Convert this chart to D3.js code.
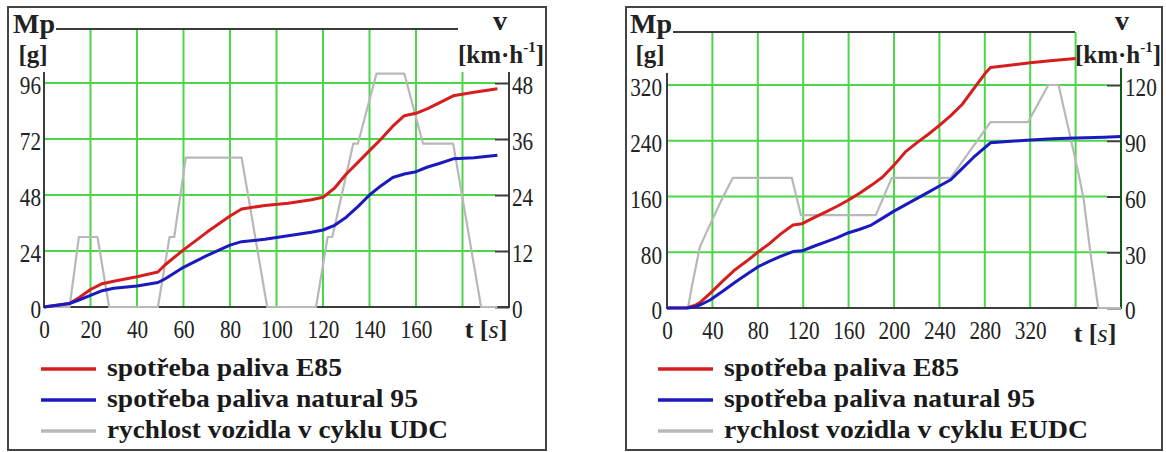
<!DOCTYPE html>
<html><head><meta charset="utf-8">
<script src="https://cdn.jsdelivr.net/npm/d3@7"></script>
<style>
body{margin:0;background:#fff;}
svg{display:block;font-family:"Liberation Serif","Times New Roman",serif;}
</style></head><body>
<svg id="c" width="1166" height="452"></svg>
<script>
// ---------- LEFT PANEL (UDC) ----------
const leftFuelTime = [0,11,15,20,25,30,40,49,52,60,70,80,85,95,105,115,120,125,130,135,140,145,150,155,160,165,170,176,185,195];
const leftE85 = [0,1.5,4,7.5,10,11,13,15,18,24.5,32,39,42,43.5,44.5,46,47,51,57,62,67,72,77.5,82,83,85,87.5,90.5,92,93.5];
const leftN95 = [0,1.5,3,5,7,8,9,10.5,12,17,22,26.5,28,29,30.5,32,33,35,38.5,43,48,52,55.5,57,58,60,61.5,63.5,64,65];
const leftSpeedTime = [0,11,15,23,28,49,54,56,61,85,96,117,122,124,133,135,143,155,163,176,188,195];
const leftSpeed = [0,0,15,15,0,0,15,15,32,32,0,0,15,15,35,35,50,50,35,35,0,0];
const leftTTicks = [0,20,40,60,80,100,120,140,160];
const leftGridT = [20,40,60,80,100,120,140,160,180];
const leftMTicks = [0,24,48,72,96];
const leftVTicks = [0,12,24,36,48];
const leftLegend = ["spotřeba paliva E85","spotřeba paliva natural 95","rychlost vozidla v cyklu UDC"];

// ---------- RIGHT PANEL (EUDC) ----------
const rightFuelTime = [0,18,25,30,38,50,60,70,80,90,100,111,119,130,140,150,160,170,180,190,200,210,220,230,240,250,260,270,280,285,300,320,340,360,385,400];
const rightE85 = [0,0.5,4,9,21,40,55,67,80,92,106,119,121,130,138,146,155,165,176,188,205,224,237,249,262,276,292,314,336,345,348,352,355,358,null,null];
const rightN95 = [0,0,2,5,11.5,25,37,48,59,67,74,81,82,89,95,101,108,113,119,129,139,148,157,166,175,184,200,216,230,237,239,241,243,244,245,246];
const rightSpeedTime = [0,18.5,22,29,38,49.5,58,110,118,184,198,250,285,318,336,345,362,367,373,380,400];
const rightSpeed = [0,0,12,33,45,60,70,70,50,50,70,70,100,100,120,120,74,59,30,0,0];
const rightTTicks = [0,40,80,120,160,200,240,280,320];
const rightGridT = [40,80,120,160,200,240,280,320,360];
const rightMTicks = [0,80,160,240,320];
const rightVTicks = [0,30,60,90,120];
const rightLegend = ["spotřeba paliva E85","spotřeba paliva natural 95","rychlost vozidla v cyklu EUDC"];

const svg = d3.select("#c");
const GREEN = "#4bd64b", AX = "#3c3c3c", RED = "#d61e1e", BLUE = "#1a1ac0", GRAY = "#b8b8b8";
const zip = (ts, vs) => ts.map((t,i)=>({t, v: vs[i]}));

function panel(cfg){
  const g = svg.append("g");
  const x = d3.scaleLinear().domain(cfg.tDomain).range([cfg.x0, cfg.x1]);
  const y = d3.scaleLinear().domain(cfg.mDomain).range([cfg.yBottom, cfg.yTop]);
  const yv = d3.scaleLinear().domain(cfg.vDomain).range([cfg.yBottom, cfg.yTop]);

  g.append("rect").attr("x",cfg.fx).attr("y",7).attr("width",cfg.fw).attr("height",443)
    .attr("fill","none").attr("stroke","#444").attr("stroke-width",2);

  // vertical grid
  cfg.gridT.forEach(t=>{
    const px = x(t);
    const top = px <= cfg.topEnd + 2 ? cfg.topY : cfg.axisTop;
    g.append("line").attr("x1",px).attr("x2",px).attr("y1",top).attr("y2",cfg.yBottom)
      .attr("stroke",GREEN).attr("stroke-width",2);
  });
  // horizontal grid
  cfg.mTicks.filter(m=>m>0).forEach(m=>{
    g.append("line").attr("x1",x(0)).attr("x2",cfg.x1 - 14).attr("y1",y(m)).attr("y2",y(m))
      .attr("stroke",GREEN).attr("stroke-width",2);
  });
  // top line
  g.append("line").attr("x1",cfg.topStart).attr("x2",cfg.topEnd).attr("y1",cfg.topY).attr("y2",cfg.topY)
    .attr("stroke",AX).attr("stroke-width",2);
  // left axis line
  g.append("line").attr("x1",x(0)).attr("x2",x(0)).attr("y1",cfg.axisTop).attr("y2",cfg.yBottom+1)
    .attr("stroke",AX).attr("stroke-width",2);
  // right axis line
  g.append("line").attr("x1",cfg.x1).attr("x2",cfg.x1).attr("y1",cfg.rAxisTop).attr("y2",cfg.yBottom+1)
    .attr("stroke",cfg.rAxisColor).attr("stroke-width",2);
  // bottom axis
  g.append("line").attr("x1",x(0)).attr("x2",cfg.x1).attr("y1",cfg.yBottom).attr("y2",cfg.yBottom)
    .attr("stroke",AX).attr("stroke-width",2);

  const styleTicks = sel => {
    sel.select(".domain").remove();
    sel.selectAll("text").attr("font-size",26).attr("fill","#222")
      .attr("font-family","Liberation Serif, serif")
      .attr("textLength", function(){ return this.textContent.length * 10.6; })
      .attr("lengthAdjust","spacingAndGlyphs");
  };
  // left axis labels
  const la = g.append("g").attr("transform",`translate(${x(0)},0)`)
    .call(d3.axisLeft(y).tickValues(cfg.mTicks).tickSize(0).tickPadding(cfg.lPad));
  styleTicks(la); la.selectAll("text").attr("dy","0.42em");
  // bottom axis labels
  const ba = g.append("g").attr("transform",`translate(0,${cfg.yBottom})`)
    .call(d3.axisBottom(x).tickValues(cfg.tTicks).tickSize(0).tickPadding(13));
  styleTicks(ba);
  // right axis
  const ra = g.append("g").attr("transform",`translate(${cfg.x1},0)`)
    .call(d3.axisRight(yv).tickValues(cfg.vTicks).tickSizeInner(-14).tickSizeOuter(0).tickPadding(cfg.rPad));
  styleTicks(ra);
  ra.selectAll(".tick line").attr("stroke",AX).attr("stroke-width",2);
  ra.selectAll("text").attr("dy","0.42em");

  // series
  const line = sc => d3.line().defined(d=>d.v!=null).x(d=>x(d.t)).y(d=>sc(d.v));
  g.append("path").datum(zip(cfg.speedT, cfg.speed)).attr("d", line(yv))
    .attr("fill","none").attr("stroke",GRAY).attr("stroke-width",2.2).attr("stroke-linejoin","round");
  g.append("path").datum(zip(cfg.fuelT, cfg.e85)).attr("d", line(y))
    .attr("fill","none").attr("stroke",RED).attr("stroke-width",3).attr("stroke-linejoin","round");
  g.append("path").datum(zip(cfg.fuelT, cfg.n95)).attr("d", line(y))
    .attr("fill","none").attr("stroke",BLUE).attr("stroke-width",3).attr("stroke-linejoin","round");

  // axis titles
  g.append("text").attr("x",cfg.mpX).attr("y",33).attr("font-size",28).attr("font-weight","bold")
    .attr("text-anchor","middle").attr("fill","#222").text("Mp");
  g.append("text").attr("x",cfg.mpX - 1).attr("y",63).attr("font-size",25).attr("font-weight","bold")
    .attr("text-anchor","middle").attr("fill","#222").text("[g]");
  g.append("text").attr("x",cfg.vX).attr("y",30).attr("font-size",28).attr("font-weight","bold")
    .attr("text-anchor","middle").attr("fill","#222").text("v");
  const u = g.append("text").attr("x",cfg.unitX).attr("y",63).attr("font-size",25).attr("font-weight","bold")
    .attr("text-anchor","middle").attr("fill","#222");
  u.append("tspan").text("[km·h");
  u.append("tspan").attr("font-size",15).attr("dy",-11).text("-1");
  u.append("tspan").attr("dy",11).text("]");
  const tt = g.append("text").attr("x",cfg.tX).attr("y",cfg.tY).attr("font-size",26).attr("font-weight","bold")
    .attr("text-anchor","middle").attr("fill","#222");
  tt.append("tspan").text("t [");
  tt.append("tspan").attr("font-style","italic").attr("font-weight","normal").text("s");
  tt.append("tspan").text("]");

  // legend
  const cols = [RED, BLUE, GRAY];
  const ly = [369, 400, 431];
  cfg.legend.forEach((s,i)=>{
    g.append("line").attr("x1",cfg.legX0).attr("x2",cfg.legX0+55).attr("y1",ly[i]).attr("y2",ly[i])
      .attr("stroke",cols[i]).attr("stroke-width",3.5);
    g.append("text").attr("x",cfg.legX0+66).attr("y",ly[i]+7).attr("font-size",26).attr("font-weight","bold")
      .attr("fill","#1a1a1a").attr("textLength",cfg.legW[i]).attr("lengthAdjust","spacingAndGlyphs").text(s);
  });
}

panel({
  tDomain:[0,200], x0:44, x1:509, mDomain:[0,96], vDomain:[0,48], yBottom:307, yTop:83,
  fx:8, fw:538, topY:29, topStart:56, topEnd:458, axisTop:72, rAxisTop:72, rAxisColor:AX,
  gridT:leftGridT, mTicks:leftMTicks, vTicks:leftVTicks, tTicks:leftTTicks, lPad:3, rPad:3,
  fuelT:leftFuelTime, e85:leftE85, n95:leftN95, speedT:leftSpeedTime, speed:leftSpeed,
  mpX:34, vX:500, unitX:501, tX:486, tY:338,
  legend:leftLegend, legX0:41, legW:[235,311,341]
});
panel({
  tDomain:[0,400], x0:667, x1:1121, mDomain:[0,320], vDomain:[0,120], yBottom:308, yTop:85,
  fx:626, fw:536, topY:32, topStart:673, topEnd:1075, axisTop:73, rAxisTop:68, rAxisColor:"#0b5e12",
  gridT:rightGridT, mTicks:rightMTicks, vTicks:rightVTicks, tTicks:rightTTicks, lPad:5, rPad:4,
  fuelT:rightFuelTime, e85:rightE85, n95:rightN95, speedT:rightSpeedTime, speed:rightSpeed,
  mpX:651, vX:1122, unitX:1118, tX:1095, tY:342,
  legend:rightLegend, legX0:658, legW:[235,311,364]
});
</script>
</body></html>
